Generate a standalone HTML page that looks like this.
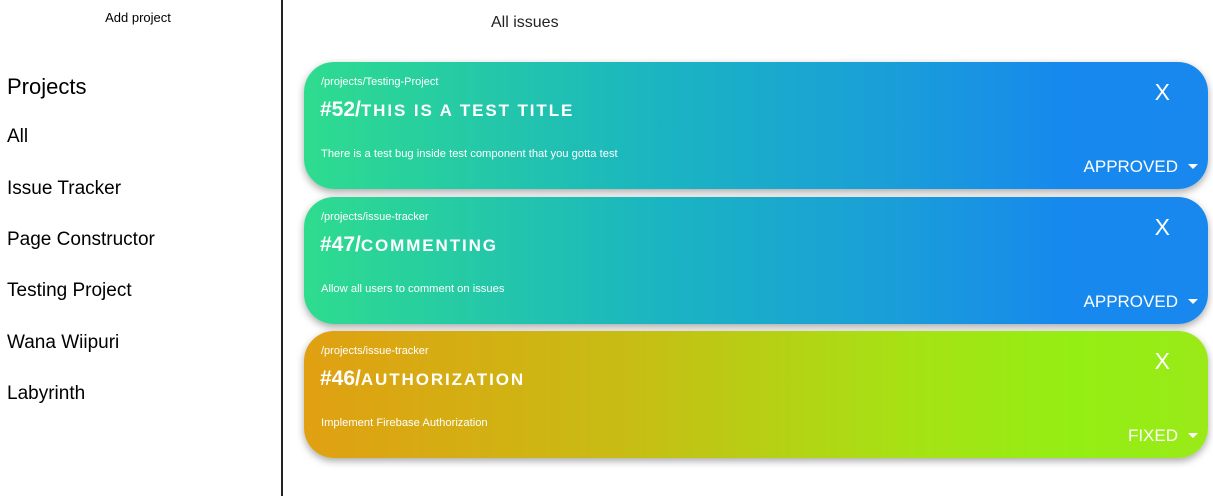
<!DOCTYPE html>
<html><head><style>
*{margin:0;padding:0;box-sizing:border-box}
body{width:1213px;height:496px;overflow:hidden;background:#fff;font-family:"Liberation Sans",Arial,sans-serif;position:relative;color:#000}
.side{position:absolute;left:0;top:0;width:283px;height:496px;border-right:2px solid #222}
.add{position:absolute;left:0;width:276px;text-align:center;top:10px;font-size:13px}
.h{position:absolute;left:7px;top:74px;font-size:22px}
.it{position:absolute;left:7px;font-size:19px}
.all{position:absolute;left:491px;top:14px;font-size:16px;color:#222}
.card{position:absolute;left:304px;width:904px;height:127px;border-radius:30px;box-shadow:0 3px 8px rgba(0,0,0,.35);color:#fff}
.g1{background:linear-gradient(90deg,#2edc8e 0%,#1ab4c2 40%,#1a9ed8 65%,#1688ee 85%,#1888ee 100%)}
.g2{background:linear-gradient(90deg,#e0a012 0%,#c8bc14 35%,#a8e014 65%,#94ee14 85%,#9aea18 100%)}
.p{position:absolute;left:17px;top:14px;font-size:11px}
.t{position:absolute;left:16px;top:36px;font-size:17px;font-weight:bold;text-transform:uppercase;letter-spacing:1.9px;white-space:nowrap}
.t b{font-size:21px;letter-spacing:0}
.d{position:absolute;left:17px;top:86px;font-size:11.2px}
.x{position:absolute;right:38px;top:17px;font-size:23px}
.s{position:absolute;right:10px;top:95px;font-size:17px}
.s:after{content:"";display:inline-block;margin-left:10px;border-left:5px solid transparent;border-right:5px solid transparent;border-top:5px solid #fff;vertical-align:3px}
</style></head><body>
<div class="side">
<div class="add">Add project</div>
<div class="h">Projects</div>
<div class="it" style="top:126px">All</div>
<div class="it" style="top:178px">Issue Tracker</div>
<div class="it" style="top:229px">Page Constructor</div>
<div class="it" style="top:280px">Testing Project</div>
<div class="it" style="top:332px">Wana Wiipuri</div>
<div class="it" style="top:383px">Labyrinth</div>
</div>
<div class="all">All issues</div>
<div class="card g1" style="top:62px"><div class="p">/projects/Testing-Project</div><div class="t"><b>#52/</b>this is a test title</div><div class="d">There is a test bug inside test component that you gotta test</div><div class="x">X</div><div class="s">APPROVED</div></div>
<div class="card g1" style="top:197px"><div class="p">/projects/issue-tracker</div><div class="t"><b>#47/</b>commenting</div><div class="d">Allow all users to comment on issues</div><div class="x">X</div><div class="s">APPROVED</div></div>
<div class="card g2" style="top:331px"><div class="p">/projects/issue-tracker</div><div class="t"><b>#46/</b>authorization</div><div class="d">Implement Firebase Authorization</div><div class="x">X</div><div class="s">FIXED</div></div>
</body></html>
